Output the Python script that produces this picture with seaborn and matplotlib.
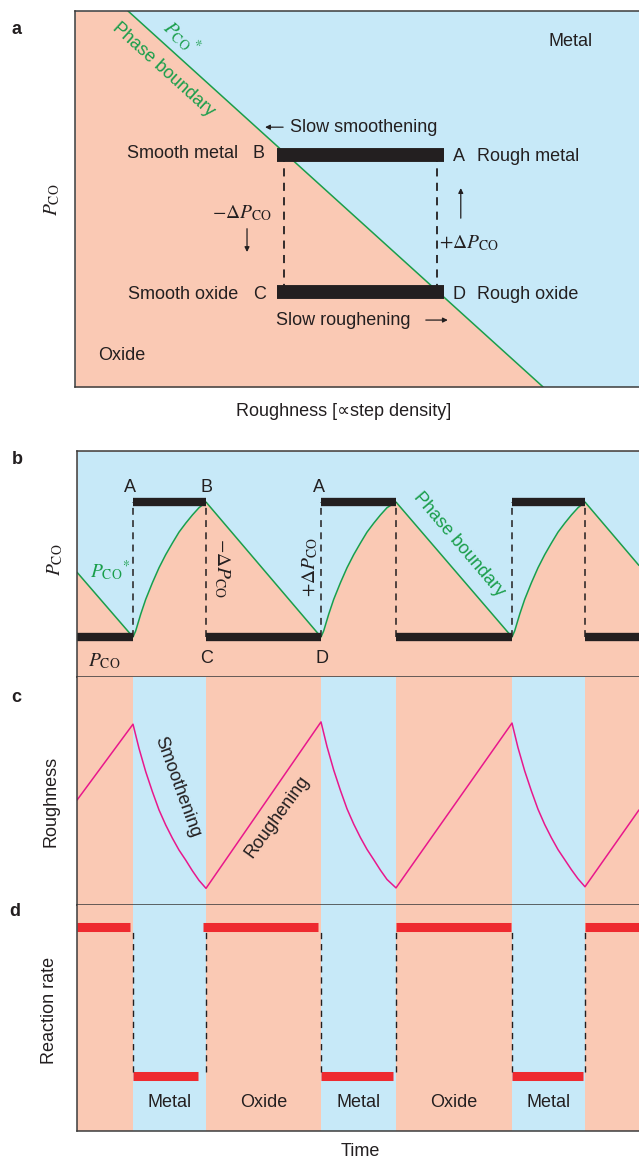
import numpy as np
import pandas as pd
import matplotlib
matplotlib.use("Agg")
import matplotlib.pyplot as plt
import seaborn as sns

sns.set_style("white")
plt.rcParams["font.family"] = ["Liberation Sans", "DejaVu Sans"]
plt.rcParams["mathtext.fontset"] = "stix"

PINK = "#FAC9B4"
BLUE = "#C7E9F8"
GREEN = "#1A9E4B"
MAGENTA = "#E8188C"
RED = "#EE2A2F"
BLACK = "#231F20"
SPINE = "#3C3C3C"
FS = 13

# ---------------- data ----------------
# panel a (roughness 0..1, P_CO 0..1)
boundary_a_x = [0.0, 0.094, 0.830]
boundary_a_y = [1.0, 1.0, 0.0]
bar_a_left, bar_a_right = 0.358, 0.654
p_high_a, p_low_a = 0.618, 0.253
dash_a_x = [0.371, 0.642]

# panels b-d (time)
t_end = 56.2
metal_start = [5.6, 24.4, 43.5]
metal_end = [12.9, 31.9, 50.8]

# panel b: phase boundary P_CO* (low level 0, high level 1)
t_b = [0.0,
       5.6, 5.87, 6.37, 6.87, 7.54, 8.2, 8.87, 9.54, 10.2, 10.87, 11.54, 12.2, 12.9,
       24.4, 24.67, 25.17, 25.67, 26.34, 27.0, 27.67, 28.34, 29.0, 29.67, 30.34, 31.0, 31.9,
       43.5, 43.77, 44.27, 44.77, 45.44, 46.1, 46.77, 47.44, 48.1, 48.77, 49.44, 50.1, 50.8,
       56.2]
p_b = [0.48,
       0.0, 0.046, 0.169, 0.279, 0.402, 0.513, 0.610, 0.696, 0.777, 0.843, 0.904, 0.958, 1.0,
       0.0, 0.046, 0.169, 0.279, 0.402, 0.513, 0.610, 0.696, 0.777, 0.843, 0.904, 0.958, 1.0,
       0.0, 0.046, 0.169, 0.279, 0.402, 0.513, 0.610, 0.696, 0.777, 0.843, 0.904, 0.958, 1.0,
       0.53]

# panel c: roughness
t_c = [0.0,
       5.6, 6.2, 6.87, 7.54, 8.2, 8.87, 9.54, 10.2, 10.87, 11.54, 12.2, 12.9,
       24.4, 25.0, 25.67, 26.34, 27.0, 27.67, 28.34, 29.0, 29.67, 30.34, 31.0, 31.9,
       43.5, 44.1, 44.77, 45.44, 46.1, 46.77, 47.44, 48.1, 48.77, 49.44, 50.1, 50.8,
       56.2]
rough_c = [0.46,
           0.793, 0.687, 0.585, 0.497, 0.417, 0.351, 0.293, 0.241, 0.197, 0.150, 0.108, 0.073,
           0.803, 0.695, 0.592, 0.503, 0.422, 0.355, 0.296, 0.244, 0.199, 0.153, 0.112, 0.075,
           0.798, 0.690, 0.588, 0.500, 0.420, 0.353, 0.295, 0.243, 0.199, 0.155, 0.115, 0.080,
           0.417]

# panel d: reaction rate bars
rate_high_start = [0.0, 12.6, 31.9, 50.8]
rate_high_end = [5.3, 24.1, 43.4, 56.2]
rate_low_start = [5.6, 24.4, 43.5]
rate_low_end = [12.1, 31.6, 50.6]
metal_labels = ["Metal", "Metal", "Metal"]
oxide_labels = ["Oxide", "Oxide"]

# ---------------- figure ----------------
W, H = 639, 1159
fig = plt.figure(figsize=(W / 100, H / 100), dpi=100)


def px_axes(left, top, right, bottom):
    return fig.add_axes([left / W, 1 - bottom / H, (right - left) / W, (bottom - top) / H])


def style(ax, spines):
    ax.set_xticks([])
    ax.set_yticks([])
    for k, s in ax.spines.items():
        s.set_visible(k in spines)
        s.set_color(SPINE)
        s.set_linewidth(1.1)


# ---------- panel a ----------
ax = px_axes(75, 11, 639, 387)
ax.set_facecolor(BLUE)
ax.set_xlim(0, 1)
ax.set_ylim(0, 1)
ax.fill_between(boundary_a_x, boundary_a_y, 0, color=PINK, lw=0)
sns.lineplot(x=boundary_a_x[1:], y=boundary_a_y[1:], ax=ax, color=GREEN, lw=1.1, sort=False, estimator=None)
for yv in (p_high_a, p_low_a):
    ax.hlines(yv, bar_a_left, bar_a_right, color=BLACK, lw=10)
for xv in dash_a_x:
    ax.vlines(xv, p_low_a, p_high_a, color=BLACK, lw=1.3, linestyles=(0, (4.5, 3.5)))
style(ax, ["left", "bottom", "top"])
tc = dict(color=BLACK, fontsize=FS)
ax.text(0.879, 0.918, "Metal", ha="center", va="center", **tc)
ax.text(0.083, 0.085, "Oxide", ha="center", va="center", **tc)
ax.text(0.289, 0.622, "Smooth metal", ha="right", va="center", **tc)
ax.text(0.326, 0.622, "B", ha="center", va="center", **tc)
ax.text(0.289, 0.247, "Smooth oxide", ha="right", va="center", **tc)
ax.text(0.328, 0.247, "C", ha="center", va="center", **tc)
ax.text(0.680, 0.612, "A", ha="center", va="center", **tc)
ax.text(0.713, 0.612, "Rough metal", ha="left", va="center", **tc)
ax.text(0.681, 0.245, "D", ha="center", va="center", **tc)
ax.text(0.713, 0.245, "Rough oxide", ha="left", va="center", **tc)
ax.text(0.381, 0.691, "Slow smoothening", ha="left", va="center", **tc)
ax.text(0.356, 0.178, "Slow roughening", ha="left", va="center", **tc)
arr = dict(arrowstyle="-|>", color=BLACK, lw=0.9, mutation_scale=7, shrinkA=0, shrinkB=0)
ax.annotate("", xy=(0.337, 0.691), xytext=(0.369, 0.691), arrowprops=arr)
ax.annotate("", xy=(0.661, 0.178), xytext=(0.622, 0.178), arrowprops=arr)
ax.annotate("", xy=(0.305, 0.359), xytext=(0.305, 0.421), arrowprops=arr)
ax.annotate("", xy=(0.684, 0.529), xytext=(0.684, 0.449), arrowprops=arr)
ax.text(0.296, 0.463, r"$-\Delta P_{\mathrm{CO}}$", ha="center", va="center", color=BLACK, fontsize=14)
ax.text(0.699, 0.383, r"$+\Delta P_{\mathrm{CO}}$", ha="center", va="center", color=BLACK, fontsize=14)
ax.text(0.156, 0.843, "Phase boundary", ha="center", va="center", rotation=-42.1,
        rotation_mode="anchor", color=GREEN, fontsize=FS)
ax.text(0.188, 0.930, r"$P_{\mathrm{CO}}{}^{*}$", ha="center", va="center", rotation=-42.1,
        rotation_mode="anchor", color=GREEN, fontsize=14)
fig.text(52 / W, 1 - 200 / H, r"$P_{\mathrm{CO}}$", rotation=90, ha="center", va="center", color=BLACK, fontsize=14)
fig.text(344 / W, 1 - 411 / H, "Roughness [\u221dstep density]", ha="center", va="center", **tc)
fig.text(16 / W, 1 - 29 / H, "a", ha="center", va="center", fontweight="bold", fontsize=FS, color=BLACK)

# ---------- panel b ----------
ax = px_axes(77, 451, 639, 677)
ax.set_facecolor(PINK)
ax.set_xlim(0, t_end)
ax.set_ylim(-0.296, 1.378)
ax.fill_between(t_b, p_b, 1.378, color=BLUE, lw=0)
sns.lineplot(x=t_b, y=p_b, ax=ax, color=GREEN, lw=1.1, sort=False, estimator=None)
low_starts = [0.0] + metal_end
low_ends = metal_start + [t_end]
ax.hlines([1.0] * 3, metal_start, metal_end, color=BLACK, lw=6)
ax.hlines([0.0] * 4, low_starts, low_ends, color=BLACK, lw=6)
ax.vlines(metal_start + metal_end, 0, 1, color=BLACK, lw=1.1, linestyles=(0, (4.5, 3.5)))
style(ax, ["left", "top", "bottom"])
for t, s in zip([5.3, 13.0, 24.2], ["A", "B", "A"]):
    ax.text(t, 1.104, s, ha="center", va="center", **tc)
for t, s in zip([13.0, 24.5], ["C", "D"]):
    ax.text(t, -0.156, s, ha="center", va="center", **tc)
ax.text(3.3, 0.49, r"$P_{\mathrm{CO}}{}^{*}$", ha="center", va="center", color=GREEN, fontsize=14)
ax.text(2.7, -0.178, r"$P_{\mathrm{CO}}$", ha="center", va="center", color=BLACK, fontsize=14)
ax.text(14.45, 0.511, r"$-\Delta P_{\mathrm{CO}}$", ha="center", va="center", rotation=-90, color=BLACK, fontsize=14)
ax.text(23.3, 0.519, r"$+\Delta P_{\mathrm{CO}}$", ha="center", va="center", rotation=90, color=BLACK, fontsize=14)
ax.text(38.2, 0.689, "Phase boundary", ha="center", va="center", rotation=-49.6,
        rotation_mode="anchor", color=GREEN, fontsize=FS)
fig.text(55 / W, 1 - 560 / H, r"$P_{\mathrm{CO}}$", rotation=90, ha="center", va="center", color=BLACK, fontsize=14)
fig.text(17 / W, 1 - 460 / H, "b", ha="center", va="center", fontweight="bold", fontsize=FS, color=BLACK)

# ---------- panel c ----------
ax = px_axes(77, 677, 639, 905)
ax.set_facecolor(PINK)
ax.set_xlim(0, t_end)
ax.set_ylim(0, 1)
for a, b in zip(metal_start, metal_end):
    ax.axvspan(a, b, color=BLUE, lw=0)
sns.lineplot(x=t_c, y=rough_c, ax=ax, color=MAGENTA, lw=1.1, sort=False, estimator=None)
style(ax, ["left", "bottom"])
ax.text(10.0, 0.518, "Smoothening", ha="center", va="center", rotation=-70,
        rotation_mode="anchor", **tc)
ax.text(20.0, 0.386, "Roughening", ha="center", va="center", rotation=54,
        rotation_mode="anchor", **tc)
fig.text(51 / W, 1 - 801 / H, "Roughness", rotation=90, ha="center", va="center", **tc)
fig.text(16 / W, 1 - 698 / H, "c", ha="center", va="center", fontweight="bold", fontsize=FS, color=BLACK)

# ---------- panel d ----------
ax = px_axes(77, 905, 639, 1131)
ax.set_facecolor(PINK)
ax.set_xlim(0, t_end)
ax.set_ylim(-0.369, 1.148)
for a, b in zip(metal_start, metal_end):
    ax.axvspan(a, b, color=BLUE, lw=0)
ax.hlines([1.0] * 4, rate_high_start, rate_high_end, color=RED, lw=6.5)
ax.hlines([0.0] * 3, rate_low_start, rate_low_end, color=RED, lw=6.5)
ax.vlines(metal_start + metal_end, 0.03, 0.97, color=BLACK, lw=1.0, linestyles=(0, (4.5, 3.5)))
style(ax, ["left", "bottom"])
for a, b, s in zip(metal_start, metal_end, metal_labels):
    ax.text((a + b) / 2, -0.181, s, ha="center", va="center", **tc)
for a, b, s in zip(metal_end[:2], metal_start[1:], oxide_labels):
    ax.text((a + b) / 2, -0.181, s, ha="center", va="center", **tc)
fig.text(49 / W, 1 - 1010 / H, "Reaction rate", rotation=90, ha="center", va="center", **tc)
fig.text(360 / W, 1 - 1151 / H, "Time", ha="center", va="center", **tc)
fig.text(15 / W, 1 - 912 / H, "d", ha="center", va="center", fontweight="bold", fontsize=FS, color=BLACK)

fig.savefig("out.png", dpi=100, facecolor="white")
